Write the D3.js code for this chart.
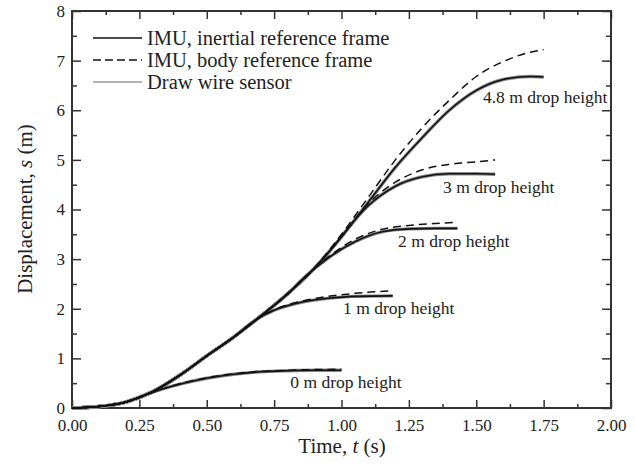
<!DOCTYPE html>
<html>
<head>
<meta charset="utf-8">
<script src="https://cdnjs.cloudflare.com/ajax/libs/d3/7.8.5/d3.min.js"></script>
<style>
  body { margin: 0; background: #fff; }
</style>
</head>
<body>
<svg id="chart" width="635" height="469" font-family="Liberation Serif, Times New Roman, serif"></svg>
<script>
// Common free fall part (time s, displacement m)
var trunk = [[0, 0], [0.1, 0.03], [0.2, 0.12], [0.3, 0.33], [0.4, 0.66], [0.5, 1.05],
  [0.6, 1.43], [0.7, 1.85], [0.8, 2.3], [0.9, 2.82], [1.0, 3.45], [1.1, 4.15],
  [1.2, 4.85], [1.3, 5.45], [1.4, 6.0], [1.5, 6.4], [1.6, 6.62], [1.7, 6.68], [1.75, 6.67]];

// Where each drop leaves the trunk, inertial reference frame
var inertial0 = [[0.26, 0.24], [0.3, 0.32], [0.4, 0.48], [0.5, 0.6], [0.6, 0.68], [0.7, 0.73], [0.8, 0.75], [0.9, 0.76], [1.0, 0.76]];
var inertial1 = [[0.68, 1.77], [0.75, 1.97], [0.85, 2.13], [0.95, 2.21], [1.05, 2.25], [1.19, 2.26]];
var inertial2 = [[0.86, 2.62], [0.95, 3.02], [1.05, 3.35], [1.15, 3.55], [1.25, 3.61], [1.35, 3.62], [1.43, 3.62]];
var inertial3 = [[1.03, 3.66], [1.1, 4.08], [1.2, 4.47], [1.3, 4.66], [1.4, 4.72], [1.5, 4.72], [1.57, 4.71]];
var inertial48 = [[1.75, 6.67]];

// Body reference frame (dashed)
var body0 = [[0.26, 0.24], [0.4, 0.49], [0.6, 0.69], [0.8, 0.76], [1.0, 0.78]];
var body1 = [[0.68, 1.77], [0.75, 1.98], [0.85, 2.15], [0.95, 2.25], [1.05, 2.31], [1.19, 2.36]];
var body2 = [[0.86, 2.62], [0.95, 3.04], [1.05, 3.4], [1.15, 3.6], [1.25, 3.68], [1.35, 3.72], [1.43, 3.74]];
var body3 = [[1.03, 3.66], [1.1, 4.12], [1.2, 4.55], [1.3, 4.8], [1.4, 4.91], [1.5, 4.96], [1.57, 5.0]];
var body48 = [[0.95, 3.15], [1.0, 3.5], [1.1, 4.25], [1.2, 5.0], [1.3, 5.65], [1.4, 6.2], [1.5, 6.68], [1.6, 6.98], [1.7, 7.17], [1.75, 7.22]];

var dropNames = ["0 m drop height", "1 m drop height", "2 m drop height", "3 m drop height", "4.8 m drop height"];
var xTicks = [0, 0.25, 0.5, 0.75, 1, 1.25, 1.5, 1.75, 2];
var yTicks = [0, 1, 2, 3, 4, 5, 6, 7, 8];
var legendNames = ["IMU, inertial reference frame", "IMU, body reference frame", "Draw wire sensor"];

// Label anchor points (data units, text baseline start) for each drop
var labelAt = [[0.81, 0.4], [1.006, 1.9], [1.21, 3.25], [1.377, 4.33], [1.525, 6.15]];

var FONT = "Liberation Serif, Times New Roman, serif";
var svg = d3.select("#chart");
var x = d3.scaleLinear().domain([0, 2]).range([72, 611]);
var y = d3.scaleLinear().domain([0, 8]).range([408, 11]);

// join the trunk with a branch: trunk points before the branch starts
function withTrunk(tail) {
  var first = tail[0][0];
  return trunk.filter(function (p) { return p[0] < first; }).concat(tail);
}

var inertial = [inertial0, inertial1, inertial2, inertial3, inertial48].map(withTrunk);
var bodyFrame = [body0, body1, body2, body3, body48].map(withTrunk);
var wire = inertial; // draw wire readings sit on top of the inertial ones

var line = d3.line()
  .x(function (d) { return x(d[0]); })
  .y(function (d) { return y(d[1]); })
  .curve(d3.curveMonotoneX);

// axes, ticks pointing inward on all four sides
function minor(ticks) {
  var out = [];
  for (var i = 0; i < ticks.length - 1; i++) out.push((ticks[i] + ticks[i + 1]) / 2);
  return out;
}

var axes = svg.append("g").attr("class", "axes");
axes.append("g").attr("transform", "translate(0,408)")
  .call(d3.axisBottom(x).tickValues(xTicks).tickSize(-8).tickPadding(11).tickFormat(d3.format(".2f")));
axes.append("g").attr("transform", "translate(0,408)")
  .call(d3.axisBottom(x).tickValues(minor(xTicks)).tickSize(-4).tickFormat(""));
axes.append("g").attr("transform", "translate(0,11)")
  .call(d3.axisTop(x).tickValues(xTicks).tickSize(-8).tickFormat(""));
axes.append("g").attr("transform", "translate(0,11)")
  .call(d3.axisTop(x).tickValues(minor(xTicks)).tickSize(-4).tickFormat(""));
axes.append("g").attr("transform", "translate(72,0)")
  .call(d3.axisLeft(y).tickValues(yTicks).tickSize(-9).tickPadding(7).tickFormat(d3.format("d")));
axes.append("g").attr("transform", "translate(72,0)")
  .call(d3.axisLeft(y).tickValues(minor(yTicks)).tickSize(-5).tickFormat(""));
axes.append("g").attr("transform", "translate(611,0)")
  .call(d3.axisRight(y).tickValues(yTicks).tickSize(-9).tickFormat(""));
axes.append("g").attr("transform", "translate(611,0)")
  .call(d3.axisRight(y).tickValues(minor(yTicks)).tickSize(-5).tickFormat(""));

axes.selectAll(".domain").remove();
axes.selectAll("g").attr("font-family", FONT).attr("font-size", 17);
axes.selectAll(".tick line").attr("stroke", "#333").attr("stroke-width", 1.5);
axes.selectAll(".tick text").attr("fill", "#222");

svg.append("rect")
  .attr("x", 72).attr("y", 11)
  .attr("width", 611 - 72).attr("height", 408 - 11)
  .attr("fill", "none").attr("stroke", "#333").attr("stroke-width", 2);

// curves
var plot = svg.append("g");
plot.selectAll(".wire").data(wire).enter().append("path")
  .attr("d", line).attr("fill", "none")
  .attr("stroke", "#8a8a8a").attr("stroke-width", 3.4);
plot.selectAll(".inertial").data(inertial).enter().append("path")
  .attr("d", line).attr("fill", "none")
  .attr("stroke", "#111").attr("stroke-width", 1.6);
plot.selectAll(".body").data(bodyFrame).enter().append("path")
  .attr("d", line).attr("fill", "none")
  .attr("stroke", "#111").attr("stroke-width", 1.5)
  .attr("stroke-dasharray", "8,5");

// drop height labels
plot.selectAll(".drop").data(dropNames).enter().append("text")
  .attr("x", function (d, i) { return x(labelAt[i][0]); })
  .attr("y", function (d, i) { return y(labelAt[i][1]); })
  .attr("font-family", FONT)
  .attr("font-size", 17.5)
  .attr("fill", "#222")
  .text(function (d) { return d; });

// legend
var legend = svg.append("g");
var legendY = [38, 60, 82];
legend.selectAll("line").data(legendNames).enter().append("line")
  .attr("x1", 93).attr("x2", 142)
  .attr("y1", function (d, i) { return legendY[i]; })
  .attr("y2", function (d, i) { return legendY[i]; })
  .attr("stroke", function (d, i) { return i === 2 ? "#666" : "#111"; })
  .attr("stroke-width", function (d, i) { return i === 2 ? 1.2 : 1.7; })
  .attr("stroke-dasharray", function (d, i) { return i === 1 ? "8,4" : null; });
legend.selectAll("text").data(legendNames).enter().append("text")
  .attr("x", 147)
  .attr("y", function (d, i) { return legendY[i]; })
  .attr("dy", "0.35em")
  .attr("font-family", FONT)
  .attr("font-size", 20.5)
  .attr("fill", "#222")
  .text(function (d) { return d; });

// axis titles
var xt = svg.append("text").attr("x", 342).attr("y", 453)
  .attr("text-anchor", "middle").attr("font-family", FONT)
  .attr("font-size", 21).attr("fill", "#222");
xt.append("tspan").text("Time, ");
xt.append("tspan").attr("font-style", "italic").text("t");
xt.append("tspan").text(" (s)");

var yt = svg.append("text").attr("transform", "translate(32,209) rotate(-90)")
  .attr("text-anchor", "middle").attr("font-family", FONT)
  .attr("font-size", 21).attr("fill", "#222");
yt.append("tspan").text("Displacement, ");
yt.append("tspan").attr("font-style", "italic").text("s");
yt.append("tspan").text(" (m)");
</script>
</body>
</html>
